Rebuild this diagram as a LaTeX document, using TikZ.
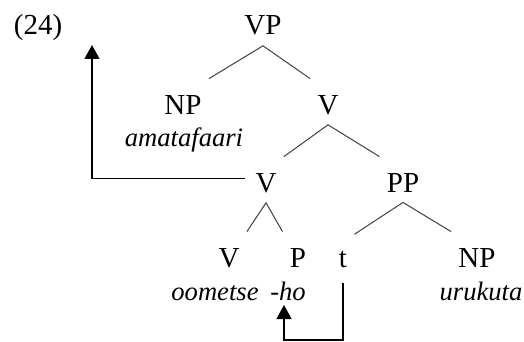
\documentclass[tikz,border=0pt]{standalone}
\usepackage{fontspec}
\setmainfont{Liberation Serif}
\usetikzlibrary{arrows.meta}

\begin{document}
\begin{tikzpicture}[x=0.5pt,y=-0.5pt]
\tikzstyle{cat}=[inner sep=0pt,anchor=base,font=\fontsize{14.5}{17}\selectfont]
\tikzstyle{gl}=[inner sep=0pt,anchor=base,font=\fontsize{13.3}{16}\selectfont\itshape]
\tikzstyle{limb}=[black!75,line width=0.5pt]
\tikzstyle{move}=[line width=0.7pt,-{Triangle[width=7.5pt,length=7pt]}]
\useasboundingbox (0,0) rectangle (524,342);

% example number
\node[cat] (ex) at (38,35) {(24)};

% categories
\node[cat] (VP)  at (263,35)  {VP};
\node[cat] (NP)  at (183,114) {NP};
\node[cat] (Vu)  at (328,114) {V};
\node[cat] (Vm)  at (266,192) {V};
\node[cat] (PP)  at (403,192) {PP};
\node[cat] (Vl)  at (229,267) {V};
\node[cat] (P)   at (298,267) {P};
\node[cat] (t)   at (343,267) {t};
\node[cat] (NPl) at (477,267) {NP};

% glosses
\node[gl] (amata) at (184,147) {amatafaari};
\node[gl] (oome)  at (215,300) {oometse};
\node[gl] (ho)    at (288,300) {-ho};
\node[gl] (uru)   at (481,300) {urukuta};

% branches
\draw[limb] ([shift={(3.5pt,8pt)}]NP.north east) -- ([yshift=-5pt]VP.south)
            -- ([shift={(-3.5pt,8pt)}]Vu.north west);
\draw[limb] ([shift={(3.5pt,8pt)}]Vm.north east) -- ([yshift=-5pt]Vu.south)
            -- ([shift={(-3.5pt,8pt)}]PP.north west);
\draw[limb] ([shift={(3.5pt,8pt)}]Vl.north east) -- ([yshift=-5pt]Vm.south)
            -- ([shift={(-3.5pt,8pt)}]P.north west);
\draw[limb] ([shift={(3.5pt,8pt)}]t.north east) -- ([yshift=-5pt]PP.south)
            -- ([shift={(-3.5pt,8pt)}]NPl.north west);

% movement
\coordinate (landing) at (92,45);
\draw[move] ([shift={(-5pt,2pt)}]Vm.west) -| (landing);
\draw[move] ([yshift=-8pt]t.base) -- ([yshift=-36.5pt]t.base)
            -| ([shift={(-2pt,-2.5pt)}]ho.base);
\end{tikzpicture}
\end{document}
